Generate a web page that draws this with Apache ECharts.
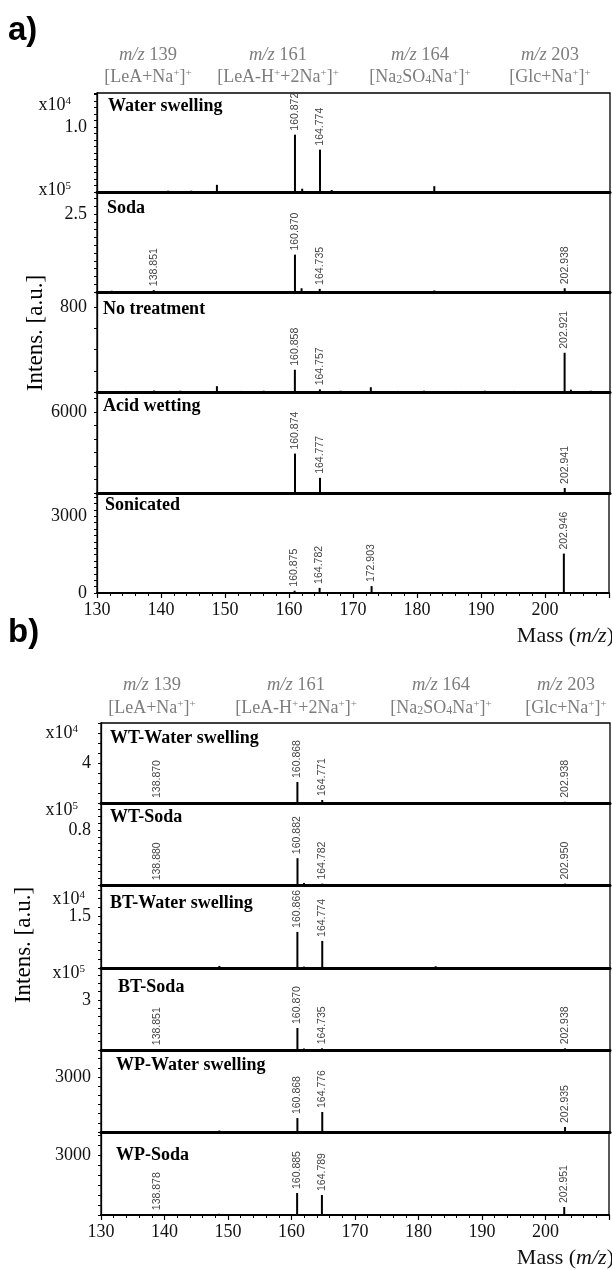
<!DOCTYPE html>
<html><head><meta charset="utf-8">
<script src="https://cdn.jsdelivr.net/npm/echarts@6/dist/echarts.min.js"></script>
<style>html,body{margin:0;padding:0;background:#fff}#c{width:612px;height:1270px}</style>
</head><body><div id="c"></div>
<script>
// ---------------- DATA ----------------
const xTickValues = [130, 140, 150, 160, 170, 180, 190, 200];
const headerMz = ['139', '161', '164', '203'];
const headerIons = [
  '{n|[LeA+Na}{s|+}{n|]}{s|+}',
  '{n|[LeA-H}{s|+}{n|+2Na}{s|+}{n|]}{s|+}',
  '{n|[Na}{b|2}{n|SO}{b|4}{n|Na}{s|+}{n|]}{s|+}',
  '{n|[Glc+Na}{s|+}{n|]}{s|+}'
];

// Panel a samples
const aNames = ['Water swelling', 'Soda', 'No treatment', 'Acid wetting', 'Sonicated'];
const aExponents = ['4', '5', '', '', ''];
const aYMax = [1.52, 3.21, 943, 7500, 3908];
const aYLabels = [[1.0], [2.5], [800], [6000], [3000, 0]];
const aYLabelText = [['1.0'], ['2.5'], ['800'], ['6000'], ['3000', '0']];
const aYMinorStep = [0.1, 0.25, 200, 1000, 250];

const waterPeaks = [[160.872, 0.88], [164.774, 0.65]];
const waterMinor = [[141.1, 0.02], [144.7, 0.02], [148.7, 0.11], [162.0, 0.05], [166.6, 0.03], [182.6, 0.09]];
const sodaPeaks = [[138.851, 0.06], [160.870, 1.20], [164.735, 0.10], [202.938, 0.12]];
const sodaMinor = [[132.3, 0.04], [161.9, 0.12], [182.6, 0.05]];
const noTreatPeaks = [[160.858, 210], [164.757, 25], [202.921, 370]];
const noTreatMinor = [[134.5, 10], [138.9, 14], [143.0, 12], [148.7, 55], [152.5, 10], [156.0, 12], [168.0, 12], [172.7, 45], [177.0, 10], [181.0, 12], [186.0, 10], [190.5, 12], [195.0, 10], [203.9, 22], [207.0, 12]];
const acidPeaks = [[160.874, 2925], [164.777, 1125], [202.941, 375]];
const acidMinor = [[148.7, 60], [182.6, 50]];
const sonicPeaks = [[160.875, 90], [164.782, 200], [172.903, 270], [202.946, 1540]];
const sonicMinor = [[148.7, 40], [186.0, 30]];

// Panel b samples
const bNames = ['WT-Water swelling', 'WT-Soda', 'BT-Water swelling', 'BT-Soda', 'WP-Water swelling', 'WP-Soda'];
const bExponents = ['4', '5', '4', '5', '', ''];
const bYMax = [8.0, 1.19, 2.39, 4.92, 4470, 4150];
const bYLabels = [[4], [0.8], [1.5], [3], [3000], [3000]];
const bYLabelText = [['4'], ['0.8'], ['1.5'], ['3'], ['3000'], ['3000']];
const bYMinorStep = [1, 0.1, 0.25, 0.5, 500, 500];

const wtWaterPeaks = [[138.870, 0.10], [160.868, 2.10], [164.771, 0.30], [202.938, 0.12]];
const wtWaterMinor = [[161.9, 0.08], [182.6, 0.05]];
const wtSodaPeaks = [[138.880, 0.01], [160.882, 0.39], [164.782, 0.02], [202.950, 0.02]];
const wtSodaMinor = [[161.9, 0.03], [182.6, 0.01]];
const btWaterPeaks = [[160.866, 1.04], [164.774, 0.78]];
const btWaterMinor = [[148.6, 0.06], [161.9, 0.04], [182.6, 0.05]];
const btSodaPeaks = [[138.851, 0.05], [160.870, 1.32], [164.735, 0.10], [202.938, 0.10]];
const btSodaMinor = [[161.9, 0.09], [182.6, 0.04]];
const wpWaterPeaks = [[160.868, 760], [164.776, 1090], [202.935, 270]];
const wpWaterMinor = [[148.6, 80], [182.6, 40], [184.5, 25]];
const wpSodaPeaks = [[138.878, 40], [160.885, 1100], [164.789, 1000], [202.951, 400]];
const wpSodaMinor = [[148.6, 60], [182.6, 30]];

const aPeakSets = [waterPeaks, sodaPeaks, noTreatPeaks, acidPeaks, sonicPeaks];
const aMinorSets = [waterMinor, sodaMinor, noTreatMinor, acidMinor, sonicMinor];
const bPeakSets = [wtWaterPeaks, wtSodaPeaks, btWaterPeaks, btSodaPeaks, wpWaterPeaks, wpSodaPeaks];
const bMinorSets = [wtWaterMinor, wtSodaMinor, btWaterMinor, btSodaMinor, wpWaterMinor, wpSodaMinor];

// ---------------- LAYOUT ----------------
const SERIF = 'Liberation Serif';
const aLeft = 97, bLeft = 101, rightEdge = 610;
const aBounds = [93, 192, 292, 392, 493, 593];
const bBounds = [723, 803, 885, 968, 1050, 1132, 1215];
const aNameOffset = [[11, 13], [10, 16], [6, 17], [6, 14], [8, 12]];
const bNameOffset = [[9, 15], [9, 14], [9, 18], [17, 19], [15, 15], [15, 23]];
const aExpPos = [[71, 105], [71, 190]];
const bExpPos = [[78, 733], [78, 810], [85, 899], [85, 973]];

const grids = [], xAxes = [], yAxes = [], series = [], graphics = [];

function addPanel(left, bounds, names, yMax, yLabels, yLabelText, yMinor, peakSets, minorSets) {
  const n = names.length;
  for (let i = 0; i < n; i++) {
    const idx = grids.length;
    const isBottom = i === n - 1;
    grids.push({left: left, top: bounds[i], width: rightEdge - left, height: bounds[i + 1] - bounds[i],
      show: true, borderColor: '#000', borderWidth: 1.3, backgroundColor: 'transparent'});
    xAxes.push({gridIndex: idx, type: 'value', min: 130, max: 210, interval: 10,
      axisLine: {show: true, lineStyle: {color: '#000', width: isBottom ? 2 : 3}},
      axisTick: {show: isBottom, length: 5, lineStyle: {color: '#000', width: 1.2}},
      minorTick: {show: isBottom, splitNumber: 5, length: 3, lineStyle: {color: '#000', width: 1}},
      splitLine: {show: false}, minorSplitLine: {show: false},
      axisLabel: {show: isBottom, margin: 8, color: '#111', fontFamily: SERIF, fontSize: 18,
        formatter: v => (xTickValues.indexOf(Math.round(v)) >= 0 ? String(Math.round(v)) : '')}
    });
    const labs = yLabels[i], texts = yLabelText[i];
    yAxes.push({gridIndex: idx, type: 'value', min: 0, max: yMax[i], interval: yMinor[i],
      axisLine: {show: true, lineStyle: {color: '#000', width: 1.3}},
      axisTick: {show: true, length: 3, lineStyle: {color: '#000', width: 1}},
      splitLine: {show: false},
      axisLabel: {show: true, margin: 10, color: '#111', fontFamily: SERIF, fontSize: 18,
        formatter: v => {
          for (let k = 0; k < labs.length; k++) {
            if (Math.abs(v - labs[k]) < yMinor[i] * 1e-3) return texts[k];
          }
          return '';
        }}
    });
    const data = peakSets[i].map(p => ({value: p, label: {show: true}}))
      .concat(minorSets[i].map(p => ({value: p, label: {show: false}})));
    series.push({type: 'bar', xAxisIndex: idx, yAxisIndex: idx, barWidth: 2, data: data,
      itemStyle: {color: '#000'}, silent: true, animation: false,
      label: {show: false, position: 'top', rotate: 90, align: 'left', verticalAlign: 'middle',
        distance: 2, offset: [2, 0], color: '#444', fontSize: 10.5, fontFamily: 'Liberation Sans',
        formatter: p => p.value[0].toFixed(3)}
    });
  }
}

addPanel(aLeft, aBounds, aNames, aYMax, aYLabels, aYLabelText, aYMinorStep, aPeakSets, aMinorSets);
addPanel(bLeft, bBounds, bNames, bYMax, bYLabels, bYLabelText, bYMinorStep, bPeakSets, bMinorSets);

function txt(x, y, text, style, extra) {
  return Object.assign({type: 'text', x: x, y: y, silent: true,
    style: Object.assign({text: text, fill: '#000', fontFamily: SERIF, fontSize: 18,
      align: 'left', verticalAlign: 'middle'}, style)}, extra || {});
}
const gray = '#7d7d7d';
function richSet(fs, color) {
  return {
    n: {fontFamily: SERIF, fontSize: fs, fill: color},
    i: {fontFamily: SERIF, fontSize: fs, fontStyle: 'italic', fill: color},
    s: {fontFamily: SERIF, fontSize: Math.round(fs * 0.6), fill: color, verticalAlign: 'top'},
    b: {fontFamily: SERIF, fontSize: Math.round(fs * 0.65), fill: color, verticalAlign: 'bottom'}
  };
}

// panel letters
graphics.push(txt(8, 31, 'a)', {fontFamily: 'Liberation Sans', fontWeight: 'bold', fontSize: 33}));
graphics.push(txt(8, 633, 'b)', {fontFamily: 'Liberation Sans', fontWeight: 'bold', fontSize: 33}));

// headers
const aHdrX = [148, 278, 420, 550], bHdrX = [152, 296, 441, 566];
[[aHdrX, 55, 77], [bHdrX, 685, 708]].forEach(h => {
  for (let k = 0; k < 4; k++) {
    graphics.push(txt(h[0][k], h[1], '{i|m/z}{n| ' + headerMz[k] + '}', {align: 'center', fill: gray, rich: richSet(18.5, gray)}));
    graphics.push(txt(h[0][k], h[2], headerIons[k], {align: 'center', fill: gray, rich: richSet(18, gray)}));
  }
});

// sample names
aNames.forEach((nm, i) => graphics.push(txt(aLeft + aNameOffset[i][0], aBounds[i] + aNameOffset[i][1], nm, {fontWeight: 'bold', fontSize: 18})));
bNames.forEach((nm, i) => graphics.push(txt(bLeft + bNameOffset[i][0], bBounds[i] + bNameOffset[i][1], nm, {fontWeight: 'bold', fontSize: 18})));

// exponent labels
let ae = 0;
aExponents.forEach(e => { if (e) { const p = aExpPos[ae++]; graphics.push(txt(p[0], p[1], '{n|x10}{s|' + e + '}', {align: 'right', rich: richSet(18, '#111')})); } });
let be = 0;
bExponents.forEach(e => { if (e) { const p = bExpPos[be++]; graphics.push(txt(p[0], p[1], '{n|x10}{s|' + e + '}', {align: 'right', rich: richSet(18, '#111')})); } });

// axis titles
graphics.push(txt(36, 333, 'Intens. [a.u.]', {align: 'center', fontSize: 23}, {rotation: Math.PI / 2}));
graphics.push(txt(24, 945, 'Intens. [a.u.]', {align: 'center', fontSize: 23}, {rotation: Math.PI / 2}));
graphics.push(txt(614, 636, '{n|Mass (}{i|m/z}{n|)}', {align: 'right', rich: richSet(22, '#111')}));
graphics.push(txt(614, 1258, '{n|Mass (}{i|m/z}{n|)}', {align: 'right', rich: richSet(22, '#111')}));

const chart = echarts.init(document.getElementById('c'), null, {renderer: 'canvas'});
chart.setOption({
  animation: false,
  backgroundColor: '#fff',
  grid: grids, xAxis: xAxes, yAxis: yAxes, series: series,
  graphic: graphics
});
</script></body></html>
